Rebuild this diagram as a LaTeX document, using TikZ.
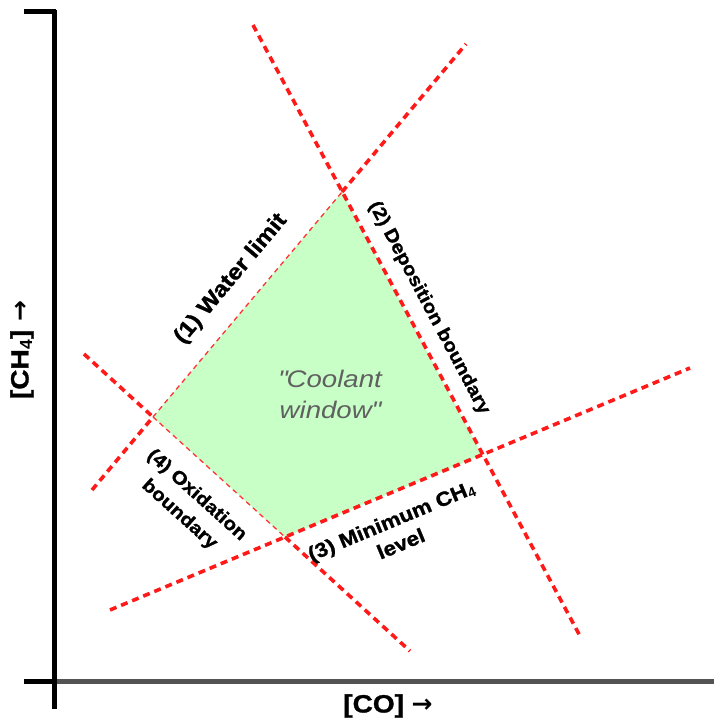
\documentclass[tikz,border=0pt]{standalone}
\usepackage{fontspec}
\setmainfont{Liberation Sans}
\newfontfamily\heavyfont{Liberation Sans}[UprightFont={* Bold}, FakeBold=1.2, FakeStretch=1.12]
\newfontfamily\coolfont{Liberation Sans}[UprightFont={* Italic}, FakeStretch=1.15]
\newfontfamily\arrowfont{DejaVu Sans}[UprightFont={* Bold}]
\begin{document}
\begin{tikzpicture}[x=1pt,y=-1pt,
  limitline/.style={draw=red!90!white, line width=3.6pt, dash pattern=on 7pt off 5pt},
  edgeline/.style={draw=red!80!white, line width=1.3pt, dash pattern=on 5pt off 4pt},
  window/.style={fill=green!22!white, draw=none},
  lbl/.style={font=\heavyfont\fontsize{19}{20}\selectfont, align=center, inner sep=0pt},
  axis/.style={line width=5pt},
  axislbl/.style={font=\heavyfont\fontsize{25}{26}\selectfont, inner sep=0pt}]
\useasboundingbox (0,0) rectangle (714,725);
% window vertices
\coordinate (T) at (342,192);
\coordinate (R) at (482,455);
\coordinate (B) at (285,537);
\coordinate (L) at (153,417);
% line ends
\coordinate (W1) at (92,490);
\coordinate (W2) at (466,44);
\coordinate (D1) at (253,25);
\coordinate (D2) at (580,636);
\coordinate (M1) at (110,610);
\coordinate (M2) at (690,368);
\coordinate (O1) at (84,354);
\coordinate (O2) at (410,651);
% coolant window
\fill[window] (T) -- (R) -- (B) -- (L) -- cycle;
\draw[edgeline] (L) -- (T);
\draw[edgeline] (L) -- (B);
% boundary lines
\draw[limitline] (W1) -- (L);
\draw[limitline] (T) -- (W2);
\draw[limitline] (O1) -- (L);
\draw[limitline] (B) -- (O2);
\draw[limitline] (D1) -- (D2);
\draw[limitline] (M1) -- (M2);
% axes
\coordinate (Ytop) at (54,10);
\coordinate (Ybot) at (54,709);
\coordinate (Org) at (54,681);
\coordinate (Xend) at (714,681);
\coordinate (Ttick) at (24,12);
\coordinate (Ttick2) at (56,12);
\coordinate (Btick) at (24,681);
\draw[axis, gray!65!black] (Org) -- (Xend);
\draw[axis] (Ytop) -- (Ybot);
\draw[axis] (Ttick) -- (Ttick2);
\draw[axis] (Btick) -- (Org);
% labels
\node[lbl, font=\heavyfont\fontsize{22}{23}\selectfont, rotate=50] (l1) at (231,279) {(1) Water limit};
\node[lbl, font=\heavyfont\fontsize{18.5}{19}\selectfont, rotate=-62] (l2) at (429,308) {(2) Deposition boundary};
\node[lbl, font=\heavyfont\fontsize{18.5}{26}\selectfont, rotate=-42] (l4) at (188,505) {(4) Oxidation\\boundary};
\node[lbl, font=\heavyfont\fontsize{20}{25}\selectfont, rotate=22.6] (l3) at (396,532) {(3) Minimum CH$_{\mathbf 4}$\\level};
\node[font=\coolfont\fontsize{24}{31}\selectfont, text=gray!75!black, align=center, inner sep=0pt] (cw) at (330,394) {\textquotedbl Coolant\\window\textquotedbl};
\node[axislbl] (xl) at (388,706) {[CO] {\arrowfont →}};
\node[axislbl, rotate=90] (yl) at (22,350) {[CH$_{\mathbf 4}$] {\arrowfont →}};
\end{tikzpicture}
\end{document}
